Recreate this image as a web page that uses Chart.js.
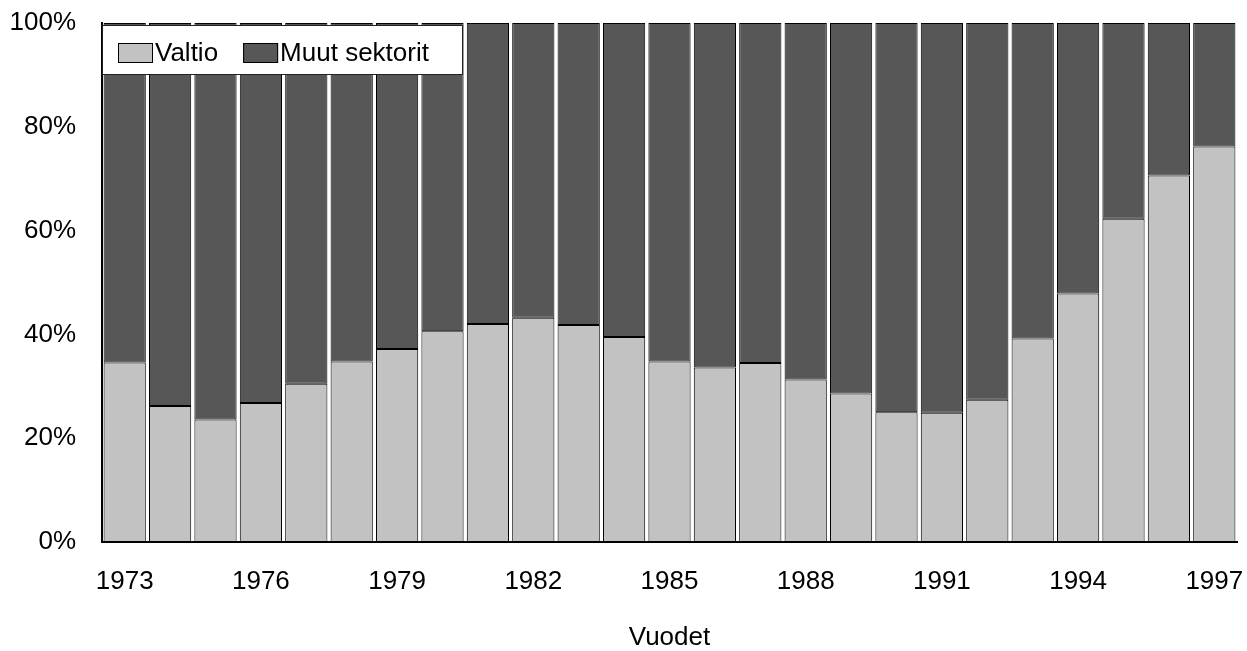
<!DOCTYPE html>
<html>
<head>
<meta charset="utf-8">
<script src="https://cdn.jsdelivr.net/npm/chart.js"></script>
<style>
  html, body { margin: 0; padding: 0; background: #fff; }
  #wrap { width: 1247px; height: 651px; }
</style>
</head>
<body>
<div id="wrap"><canvas id="chart" width="1247" height="651"></canvas></div>
<script>
// vuodet
const years = ['1973', '1974', '1975', '1976', '1977', '1978', '1979', '1980', '1981', '1982',
  '1983', '1984', '1985', '1986', '1987', '1988', '1989', '1990', '1991', '1992',
  '1993', '1994', '1995', '1996', '1997'];
const shownYears = ['1973', '1976', '1979', '1982', '1985', '1988', '1991', '1994', '1997'];

// osuudet (%)
const valtio = [34.6, 26.2, 23.6, 26.8, 30.5, 34.8, 37.2, 40.6, 42.0, 43.2,
  41.8, 39.5, 34.8, 33.6, 34.5, 31.3, 28.6, 25.0, 24.9, 27.4,
  39.2, 47.9, 62.3, 70.6, 76.2];
const muut = [65.4, 73.8, 76.4, 73.2, 69.5, 65.2, 62.8, 59.4, 58.0, 56.8,
  58.2, 60.5, 65.2, 66.4, 65.5, 68.7, 71.4, 75.0, 75.1, 72.6,
  60.8, 52.1, 37.7, 29.4, 23.8];

const yTicks = [0, 20, 40, 60, 80, 100];

const FONT = "'Liberation Sans', Arial, sans-serif";

// legend drawn inside the plot, top left
const boxLegend = {
  id: 'boxLegend',
  afterDatasetsDraw(chart) {
    const c = chart.ctx;
    const a = chart.chartArea;
    const x = a.left, y = a.top + 2;
    c.save();
    c.fillStyle = '#fff';
    c.fillRect(x, y, 361, 50);
    c.strokeStyle = '#222';
    c.lineWidth = 1;
    c.strokeRect(x + 0.5, y + 0.5, 360, 49);
    c.font = '26px ' + FONT;
    c.textBaseline = 'middle';
    let px = x + 16;
    chart.data.datasets.forEach(ds => {
      c.fillStyle = ds.backgroundColor;
      c.fillRect(px, y + 18, 35, 20);
      c.strokeStyle = '#000';
      c.strokeRect(px + 0.5, y + 18.5, 34, 19);
      c.fillStyle = '#000';
      c.fillText(ds.label, px + 37, y + 29);
      px += 37 + c.measureText(ds.label).width + 25;
    });
    c.restore();
  }
};

var ctx = document.querySelector('#chart');

var data = {
  labels: years,
  datasets: [{
    label: 'Valtio',
    data: valtio,
    backgroundColor: '#c2c2c2',
    borderColor: '#000',
    borderWidth: 1,
    borderSkipped: false,
    categoryPercentage: 0.93,
    barPercentage: 1
  }, {
    label: 'Muut sektorit',
    data: muut,
    backgroundColor: '#575757',
    borderColor: '#000',
    borderWidth: 1,
    borderSkipped: false,
    categoryPercentage: 0.93,
    barPercentage: 1
  }]
};

const config = {
  type: 'bar',
  data: data,
  plugins: [boxLegend],
  options: {
    responsive: false,
    animation: false,
    layout: { padding: { left: 0, right: 10, top: 23, bottom: 0 } },
    plugins: {
      legend: { display: false },
      tooltip: { enabled: false }
    },
    scales: {
      x: {
        stacked: true,
        grid: { display: false, drawTicks: false },
        border: { display: true, color: '#000', width: 2 },
        ticks: {
          autoSkip: false,
          maxRotation: 0,
          padding: 24,
          color: '#000',
          font: { family: FONT, size: 26 },
          callback: function (v) {
            const lab = this.getLabelForValue(v);
            return shownYears.includes(lab) ? lab : '';
          }
        },
        title: {
          display: true,
          text: 'Vuodet',
          color: '#000',
          font: { family: FONT, size: 26, lineHeight: 1 },
          padding: { top: 0, bottom: 0 }
        },
        afterFit: s => { s.height = 109; s.paddingLeft = 0; s.paddingRight = 0; }
      },
      y: {
        stacked: true,
        min: 0,
        max: 100,
        afterBuildTicks: s => { s.ticks = yTicks.map(v => ({ value: v })); },
        grid: { display: false, drawTicks: false },
        border: { display: true, color: '#000', width: 2 },
        ticks: {
          padding: 26,
          color: '#000',
          font: { family: FONT, size: 26 },
          callback: v => v + '%'
        },
        afterFit: s => { s.width = 102; s.paddingTop = 0; s.paddingBottom = 0; }
      }
    }
  }
};

var mixedChart = new Chart(ctx, config);
</script>
</body>
</html>
